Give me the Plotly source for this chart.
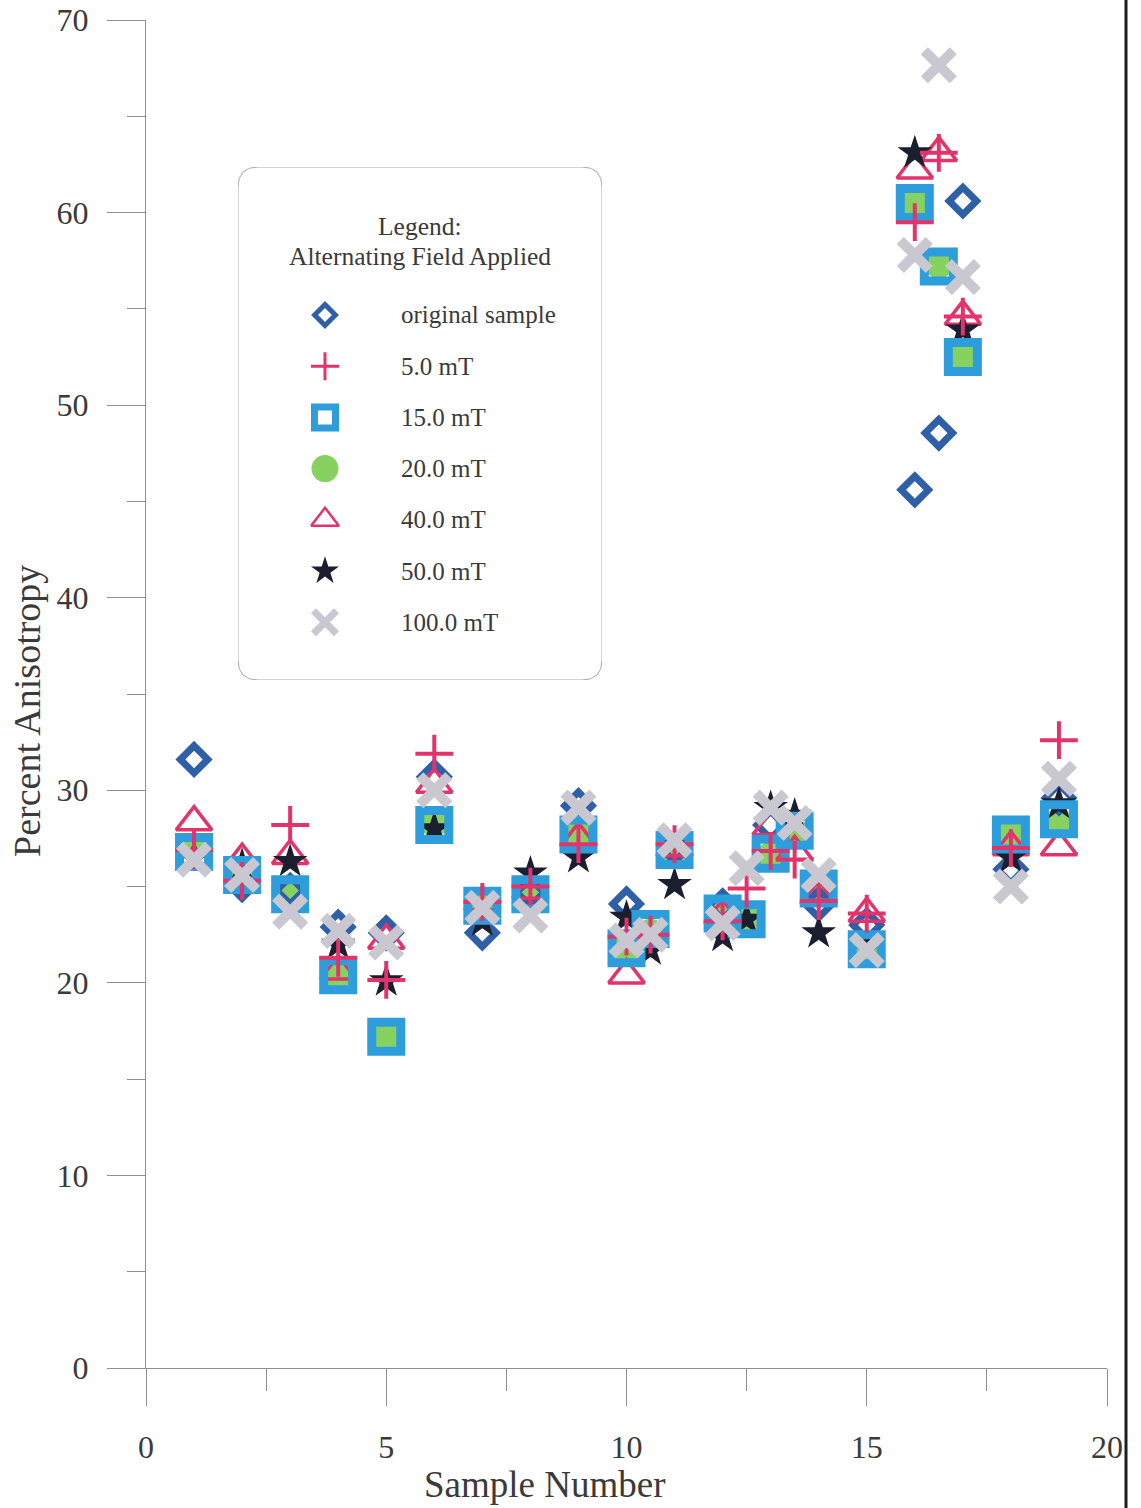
import plotly.graph_objects as go

# ---- measured anisotropy (%) per sample, one list pair per demagnetising step ----
x_original = [1, 2, 3, 4, 5, 6, 7, 8, 9, 10, 11, 12, 13, 14, 15, 16, 16.5, 17, 18, 19]
y_original = [31.6, 25.1, 24.8, 22.9, 22.6, 30.7, 22.6, 24.7, 29.2, 24.1, 27.0, 24.0,
              28.2, 24.1, 23.0, 45.6, 48.55, 60.6, 25.9, 29.6]

x_5mT = [1, 2, 3, 4, 5, 6, 7, 8, 9, 10, 10.5, 11, 12, 12.5, 13, 13.5, 14, 15, 16, 16.5, 17, 18, 19]
y_5mT = [26.9, 25.3, 28.2, 21.3, 20.15, 31.9, 24.2, 25.0, 27.2, 22.4, 22.5, 27.2, 23.2, 24.9,
         26.85, 26.4, 24.25, 23.6, 59.5, 63.1, 54.6, 27.0, 32.6]

x_15mT = [1, 2, 3, 4, 5, 6, 7, 8, 9, 10, 10.5, 11, 12, 12.5, 13, 13.5, 14, 15, 16, 16.5, 17, 18, 19]
y_15mT = [26.8, 25.6, 24.6, 20.4, 17.2, 28.2, 24.0, 24.6, 27.7, 21.8, 22.8, 26.9, 23.6, 23.3,
          26.7, 27.9, 24.9, 21.75, 60.5, 57.2, 52.5, 27.7, 28.5]

x_20mT = [1, 2, 3, 4, 5, 6, 7, 8, 9, 10, 10.5, 11, 12, 12.5, 13, 13.5, 14, 15, 16, 16.5, 17, 18, 19]
y_20mT = [27.0, 25.5, 24.55, 20.35, 17.2, 28.3, 24.0, 24.6, 27.7, 21.8, 22.6, 26.9, 23.7, 23.3,
          26.6, 27.8, 24.9, 21.6, 60.5, 57.3, 52.5, 27.8, 28.35]

x_40mT = [1, 2, 3, 4, 5, 6, 7, 8, 9, 10, 11, 12, 13, 13.5, 14, 15, 16, 16.5, 17, 18, 19]
y_40mT = [28.35, 26.4, 26.6, 20.6, 22.2, 30.3, 24.2, 24.8, 27.5, 20.4, 27.0, 23.5, 28.1, 26.8,
          24.5, 23.6, 62.2, 63.1, 54.6, 27.05, 27.05]

x_50mT = [1, 2, 3, 4, 5, 6, 7, 8, 9, 10, 10.5, 11, 12, 12.5, 13, 13.5, 14, 15, 16, 17, 18, 19]
y_50mT = [26.5, 26.1, 26.3, 22.0, 20.1, 28.0, 23.2, 25.7, 26.5, 23.4, 21.7, 25.1, 22.4, 23.3,
          29.1, 28.7, 22.6, 21.8, 63.1, 53.9, 26.5, 29.3]

x_100mT = [1, 2, 3, 4, 5, 6, 7, 8, 9, 10, 10.5, 11, 12, 12.5, 13, 13.5, 14, 15, 16, 16.5, 17, 18, 19]
y_100mT = [26.4, 25.6, 23.7, 22.7, 22.1, 30.0, 23.9, 23.5, 29.1, 22.2, 22.5, 27.4, 23.1, 25.95,
           29.1, 28.3, 25.6, 21.7, 57.8, 67.65, 56.65, 25.0, 30.6]

legend_labels = ["original sample", "5.0 mT", "15.0 mT", "20.0 mT", "40.0 mT", "50.0 mT", "100.0 mT"]

x_ticks = [0, 5, 10, 15, 20]
y_ticks = [0, 10, 20, 30, 40, 50, 60, 70]

# ---- styling ----
FONT = "Liberation Serif"
TXT = "#3a3a3a"
AX = "#8f8f8f"
BLUE_D = "#2f5fa7"
PINK = "#e2336b"
BLUE_L = "#2d9edb"
GREEN = "#86d160"
NAVY = "#1b1e2e"
GREY = "#c9c8d1"

# marker styles in data area and in the legend panel
styles = {
    "original sample": dict(symbol="diamond-open", size=21, color=BLUE_D, lw=7, lsize=16, llw=5),
    "5.0 mT": dict(symbol="cross-thin-open", size=27, color=PINK, lw=4, lsize=20, llw=3),
    "15.0 mT": dict(symbol="square-open", size=29, color=BLUE_L, lw=9, lsize=21, llw=7),
    "20.0 mT": dict(symbol="circle", size=28, color=GREEN, lw=0, lsize=27, llw=0),
    "40.0 mT": dict(symbol="triangle-up-open", size=31, color=PINK, lw=3.5, lsize=24, llw=2.5),
    "50.0 mT": dict(symbol="star", size=26, color=NAVY, lw=0, lsize=21, llw=0),
    "100.0 mT": dict(symbol="x-thin-open", size=29, color=GREY, lw=10, lsize=23, llw=7),
}

data = {
    "original sample": (x_original, y_original),
    "5.0 mT": (x_5mT, y_5mT),
    "15.0 mT": (x_15mT, y_15mT),
    "20.0 mT": (x_20mT, y_20mT),
    "40.0 mT": (x_40mT, y_40mT),
    "50.0 mT": (x_50mT, y_50mT),
    "100.0 mT": (x_100mT, y_100mT),
}

# stacking order of the marker layers (bottom first)
draw_order = ["20.0 mT", "original sample", "40.0 mT", "50.0 mT", "15.0 mT", "5.0 mT", "100.0 mT"]

fig = go.Figure()
for name in draw_order:
    xs, ys = data[name]
    st = styles[name]
    fig.add_trace(go.Scatter(
        x=xs, y=ys, mode="markers", name=name, showlegend=False,
        marker=dict(symbol=st["symbol"], size=st["size"], color=st["color"],
                    line=dict(width=st["lw"], color=st["color"])),
        hoverinfo="x+y+name",
    ))

# ---- legend panel drawn on its own overlay axes ----
W, H = 1141, 1508
ML, MR, MT, MB = 146, 34, 20, 140
pw, ph = W - ML - MR, H - MT - MB

box_px = (238, 167, 602, 680)  # left, top, right, bottom in page pixels
bx0 = (box_px[0] - ML) / pw
bx1 = (box_px[2] - ML) / pw
by0 = (H - MB - box_px[3]) / ph
by1 = (H - MB - box_px[1]) / ph
box_w = box_px[2] - box_px[0]
box_h = box_px[3] - box_px[1]

sym_x = (325 - box_px[0]) / box_w
lab_x = (399 - box_px[0]) / box_w
row0 = (box_px[3] - 315) / box_h
row_step = 51.2 / box_h

for i, name in enumerate(legend_labels):
    st = styles[name]
    yy = row0 - i * row_step
    fig.add_trace(go.Scatter(
        x=[sym_x], y=[yy], mode="markers", xaxis="x2", yaxis="y2",
        showlegend=False, hoverinfo="skip",
        marker=dict(symbol=st["symbol"], size=st["lsize"], color=st["color"],
                    line=dict(width=st["llw"], color=st["color"])),
    ))
    fig.add_annotation(x=lab_x, y=yy, xref="x2", yref="y2", text=name, showarrow=False,
                       xanchor="left", yanchor="middle",
                       font=dict(family=FONT, size=25, color=TXT))

fig.add_annotation(x=0.5, y=(box_px[3] - 227) / box_h, xref="x2", yref="y2",
                   text="Legend:", showarrow=False, xanchor="center", yanchor="middle",
                   font=dict(family=FONT, size=25.5, color=TXT))
fig.add_annotation(x=0.5, y=(box_px[3] - 257) / box_h, xref="x2", yref="y2",
                   text="Alternating Field Applied", showarrow=False,
                   xanchor="center", yanchor="middle",
                   font=dict(family=FONT, size=25.5, color=TXT))

rx = 20 / box_w
ry = 20 / box_h
panel_path = (f"M {rx},0 L {1-rx},0 Q 1,0 1,{ry} L 1,{1-ry} Q 1,1 {1-rx},1 "
              f"L {rx},1 Q 0,1 0,{1-ry} L 0,{ry} Q 0,0 {rx},0 Z")
fig.add_shape(type="path", path=panel_path, xref="x2", yref="y2",
              line=dict(color="#a9a9a9", width=1), fillcolor="rgba(0,0,0,0)", layer="below")

# axis titles
fig.add_annotation(x=(544 - ML) / pw, y=(H - MB - 1484) / ph, xref="paper", yref="paper",
                   text="Sample Number", showarrow=False, xanchor="center", yanchor="middle",
                   font=dict(family=FONT, size=37, color=TXT))
fig.add_annotation(x=(27 - ML) / pw, y=(H - MB - 711) / ph, xref="paper", yref="paper",
                   text="Percent Anisotropy", showarrow=False, textangle=-90,
                   xanchor="center", yanchor="middle",
                   font=dict(family=FONT, size=38, color=TXT))

# dark page edge on the right
fig.add_shape(type="line", xref="paper", yref="paper",
              x0=(1126 - ML) / pw, x1=(1126 - ML) / pw,
              y0=(H - MB - H) / ph, y1=(H - MB) / ph,
              line=dict(color="#1e1e1e", width=3))

fig.update_layout(
    width=W, height=H,
    margin=dict(l=ML, r=MR, t=MT, b=MB, autoexpand=False),
    paper_bgcolor="white", plot_bgcolor="white",
    showlegend=False,
    xaxis=dict(range=[0, 20], tickvals=x_ticks, ticktext=[str(v) for v in x_ticks],
               automargin=False,
               showgrid=False, zeroline=False, showline=True, linecolor=AX, linewidth=1,
               ticks="outside", ticklen=37, tickcolor=AX, tickwidth=1,
               ticklabelstandoff=14,
               minor=dict(tick0=0, dtick=2.5, ticks="outside", ticklen=22, tickcolor=AX, tickwidth=1),
               tickfont=dict(family=FONT, size=32, color=TXT)),
    yaxis=dict(range=[0, 70], tickvals=y_ticks, ticktext=[str(v) for v in y_ticks],
               automargin=False,
               showgrid=False, zeroline=False, showline=True, linecolor=AX, linewidth=1,
               ticks="outside", ticklen=38, tickcolor=AX, tickwidth=1,
               ticklabelstandoff=12,
               minor=dict(tick0=0, dtick=5, ticks="outside", ticklen=18, tickcolor=AX, tickwidth=1),
               tickfont=dict(family=FONT, size=32, color=TXT)),
    xaxis2=dict(domain=[bx0, bx1], range=[0, 1], visible=False, anchor="y2", fixedrange=True),
    yaxis2=dict(domain=[by0, by1], range=[0, 1], visible=False, anchor="x2", fixedrange=True),
)

fig.write_html("out.html")
